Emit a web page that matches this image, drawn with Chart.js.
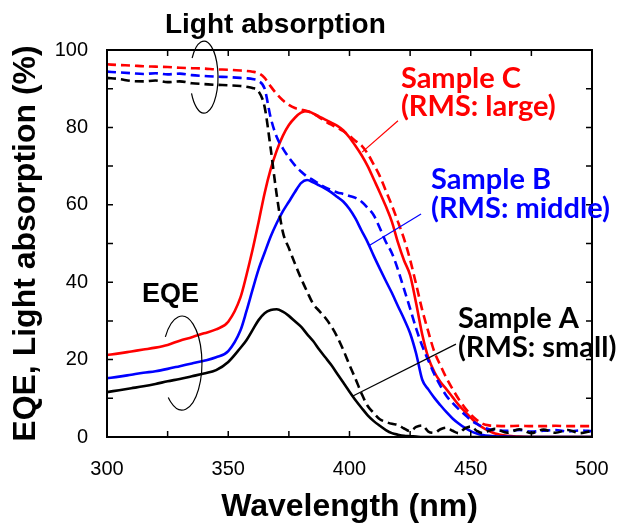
<!DOCTYPE html>
<html>
<head>
<meta charset="utf-8">
<script src="https://cdn.jsdelivr.net/npm/chart.js@4/dist/chart.umd.min.js"></script>
<style>
  html, body { margin: 0; padding: 0; background: #fff; }
  #wrap { width: 629px; height: 526px; }
</style>
</head>
<body>
<div id="wrap"><canvas id="grafico" width="629" height="526"></canvas></div>
<script>
// Comprimentos de onda (nm)
const wavelength = [300, 305, 310, 315, 320, 325, 330, 335, 340, 345, 350, 355,
  357.5, 360, 362.5, 365, 367.5, 370, 372.5, 375, 377.5, 380, 382.5, 385, 387.5, 390,
  392.5, 395, 397.5, 400, 402.5, 405, 407.5, 410, 412.5, 415, 417.5, 420, 422.5, 425,
  427.5, 430, 432.5, 435, 437.5, 440, 442.5, 445, 447.5, 450, 452.5, 455, 457.5, 460,
  465, 470, 475, 480, 485, 490, 495, 500];

// EQE (%) - linhas contínuas
const eqeA = [11.6, 12.1, 12.6, 13.1, 13.7, 14.4, 15.0, 15.7, 16.4, 17.3, 19.4, 23.0,
  25.0, 27.6, 30.2, 32.0, 32.8, 33.0, 32.4, 31.3, 29.9, 28.5, 26.6, 24.8, 22.6, 20.6,
  18.6, 16.3, 14.0, 11.7, 9.5, 7.5, 5.6, 4.1, 2.9, 1.8, 1.0, 0.6, 0.3, 0.2,
  0.1, 0, 0, 0, 0, 0, 0, 0, 0, 0, 0, 0, 0, 0,
  0, 0, 0, 0, 0, 0, 0, 0];
const eqeB = [15.2, 15.6, 16.1, 16.6, 17.0, 17.6, 18.3, 19.0, 19.7, 20.6, 22.2, 27.5,
  32.5, 38.0, 43.3, 47.6, 51.8, 55.3, 58.3, 60.8, 63.3, 65.6, 66.4, 65.8, 65.0, 64.2,
  63.2, 62.0, 60.8, 58.9, 56.4, 53.3, 50.3, 46.8, 43.5, 40.3, 37.2, 33.8, 30.5, 26.8,
  21.5, 14.8, 12.3, 10.1, 8.2, 6.4, 4.8, 3.5, 2.4, 1.5, 0.9, 0.5, 0.3, 0.2,
  0.1, 0, 0, 0, 0, 0, 0, 0];
const eqeC = [21.2, 21.6, 22.1, 22.6, 23.1, 23.8, 24.9, 25.8, 26.8, 27.8, 29.8, 36.0,
  41.8, 48.3, 55.5, 63.0, 69.2, 74.0, 77.8, 80.6, 82.5, 83.8, 84.2, 83.6, 82.8, 82.0,
  81.2, 80.4, 79.2, 77.4, 75.2, 72.8, 70.0, 66.6, 63.2, 59.6, 55.6, 50.2, 45.6, 41.8,
  34.5, 26.5, 20.5, 16.8, 14.2, 12.3, 10.3, 8.3, 6.6, 5.0, 3.5, 2.4, 1.6, 0.9,
  0.3, 0.1, 0, 0, 0, 0, 0, 0];

// Absorção de luz (%) - linhas tracejadas
const absA = [92.8, 92.5, 92.0, 91.9, 92.1, 91.7, 91.9, 91.4, 91.2, 91.0, 90.9, 90.7,
  90.5, 90.2, 89.3, 85.3, 74.5, 62.5, 53.0, 48.8, 44.8, 41.0, 37.6, 34.4, 32.6, 30.8,
  28.6, 25.8, 22.4, 18.6, 15.0, 11.2, 8.0, 6.2, 4.6, 3.9, 3.4, 3.1, 2.2, 1.5,
  2.6, 3.0, 1.4, 1.1, 2.0, 2.4, 1.6, 1.0, 2.2, 2.7, 1.6, 1.0, 1.6, 2.1,
  1.1, 2.0, 1.0, 1.9, 1.1, 1.8, 1.0, 1.6];
const absB = [94.4, 94.2, 94.0, 93.8, 94.0, 93.7, 93.9, 93.5, 93.3, 93.1, 93.0, 92.8,
  92.7, 92.5, 92.0, 90.0, 82.5, 77.5, 74.6, 72.2, 70.2, 68.6, 67.3, 66.4, 65.4, 64.5,
  63.8, 63.2, 62.8, 62.3, 61.8, 60.8, 59.2, 57.3, 54.0, 50.4, 47.5, 43.2, 38.2, 33.2,
  28.0, 23.5, 19.8, 16.2, 13.2, 10.6, 8.8, 7.2, 5.8, 4.4, 3.4, 2.6, 2.0, 1.8,
  1.6, 1.8, 1.4, 1.6, 1.8, 1.4, 1.7, 1.5];
const absC = [96.3, 96.1, 96.0, 95.8, 95.7, 95.6, 95.4, 95.3, 95.2, 95.0, 94.9, 94.7,
  94.6, 94.4, 94.0, 92.8, 90.6, 88.6, 87.0, 85.8, 85.0, 84.6, 84.2, 83.6, 82.6, 81.6,
  80.7, 79.9, 79.0, 77.8, 76.5, 75.3, 73.2, 70.4, 67.4, 63.6, 59.8, 55.6, 51.2, 45.8,
  39.4, 32.8, 27.2, 22.0, 18.5, 15.2, 12.4, 9.8, 7.6, 5.8, 4.4, 3.4, 3.0, 2.9,
  2.8, 2.9, 2.8, 2.8, 2.9, 2.8, 2.8, 2.8];

// Rótulos das amostras
const amostras = ['Sample A', 'Sample B', 'Sample C'];
const rms = ['(RMS: small)', '(RMS: middle)', '(RMS: large)'];

function pontos(valores) {
  return valores.map((v, i) => ({ x: wavelength[i], y: v }));
}

function serie(valores, cor, tracejada) {
  return {
    data: pontos(valores),
    borderColor: cor,
    borderWidth: 2.6,
    borderDash: tracejada ? [9, 5] : [],
    pointRadius: 0,
    fill: false,
    cubicInterpolationMode: 'monotone'
  };
}

// Moldura, marcas internas e anotações
const anotacoes = {
  id: 'anotacoes',
  afterDraw(chart) {
    const c = chart.ctx;
    const xs = chart.scales.x, ys = chart.scales.y;
    const a = chart.chartArea;
    const X = v => xs.getPixelForValue(v);
    const Y = v => ys.getPixelForValue(v);

    c.save();
    c.strokeStyle = '#000';
    c.lineWidth = 2;
    c.strokeRect(a.left, a.top, a.right - a.left, a.bottom - a.top);

    // marcas para dentro em todos os lados
    c.lineWidth = 1.5;
    c.beginPath();
    for (let v = 300; v <= 500; v += 25) {
      c.moveTo(X(v), a.bottom); c.lineTo(X(v), a.bottom - 6);
      c.moveTo(X(v), a.top); c.lineTo(X(v), a.top + 6);
    }
    for (let v = 0; v <= 100; v += 10) {
      c.moveTo(a.left, Y(v)); c.lineTo(a.left + 6, Y(v));
      c.moveTo(a.right, Y(v)); c.lineTo(a.right - 6, Y(v));
    }
    c.stroke();

    // elipses indicando os grupos de curvas
    c.lineWidth = 1.2;
    c.beginPath();
    c.ellipse(X(340), Y(93), 14, 36, 0, -148 * Math.PI / 180, 153 * Math.PI / 180);
    c.stroke();
    c.beginPath();
    c.ellipse(X(330.9), Y(19.1), 20, 47, 0, -146 * Math.PI / 180, 133 * Math.PI / 180);
    c.stroke();

    c.fillStyle = '#000';
    c.textAlign = 'left';
    c.textBaseline = 'alphabetic';
    c.font = 'bold 28px "Liberation Sans", Arial, sans-serif';
    c.fillText('Light absorption', X(323.9), Y(104.4));
    c.font = 'bold 27px "Liberation Sans", Arial, sans-serif';
    c.fillText('EQE', X(314.4), Y(34.9));

    // linhas de chamada
    const chamada = (cor, x1, y1, x2, y2) => {
      c.strokeStyle = cor;
      c.lineWidth = 1.2;
      c.beginPath();
      c.moveTo(X(x1), Y(y1));
      c.lineTo(X(x2), Y(y2));
      c.stroke();
    };
    chamada('#ff0000', 420.0, 81.7, 405.2, 73.6);
    chamada('#0000ff', 429.5, 57.6, 408.0, 49.4);
    chamada('#000000', 443.9, 24.0, 401.4, 10.6);

    c.font = 'bold 29px Lato, "Open Sans", sans-serif';
    const rotulo = (i, cor, x, y1, y2) => {
      c.fillStyle = cor;
      c.fillText(amostras[i], X(x), Y(y1));
      c.fillText(rms[i], X(x), Y(y2));
    };
    rotulo(2, '#ff0000', 421.2, 90.2, 82.9);
    rotulo(1, '#0000ff', 433.6, 64.1, 56.6);
    rotulo(0, '#000000', 444.7, 28.2, 20.7);
    c.restore();
  }
};

const ctx = document.getElementById('grafico').getContext('2d');

const grafico = new Chart(ctx, {
  type: 'line',
  data: {
    datasets: [
      serie(absA, '#000000', true),
      serie(absB, '#0000ff', true),
      serie(absC, '#ff0000', true),
      serie(eqeA, '#000000', false),
      serie(eqeB, '#0000ff', false),
      serie(eqeC, '#ff0000', false)
    ]
  },
  options: {
    responsive: false,
    animation: false,
    layout: { padding: { top: 50, right: 37, left: 0, bottom: 0 } },
    plugins: { legend: { display: false }, tooltip: { enabled: false } },
    scales: {
      x: {
        type: 'linear',
        min: 300,
        max: 500,
        grid: { display: false, drawTicks: false },
        border: { display: false },
        ticks: {
          stepSize: 50,
          padding: 20,
          color: '#000',
          font: { family: '"Liberation Sans", Arial, sans-serif', size: 20 }
        },
        title: {
          display: true,
          text: 'Wavelength (nm)',
          color: '#000',
          padding: { top: 0, bottom: 0 },
          font: { family: '"Liberation Sans", Arial, sans-serif', size: 32, weight: 'bold' }
        },
        afterFit: s => { s.height = 89; }
      },
      y: {
        min: 0,
        max: 100,
        grid: { display: false, drawTicks: false },
        border: { display: false },
        ticks: {
          stepSize: 20,
          padding: 19,
          color: '#000',
          font: { family: '"Liberation Sans", Arial, sans-serif', size: 20 }
        },
        title: {
          display: true,
          text: 'EQE, Light absorption (%)',
          color: '#000',
          padding: { top: 7, bottom: 0 },
          font: { family: '"Liberation Sans", Arial, sans-serif', size: 32, weight: 'bold' }
        },
        afterFit: s => { s.width = 107; }
      }
    }
  },
  plugins: [anotacoes]
});
</script>
</body>
</html>
